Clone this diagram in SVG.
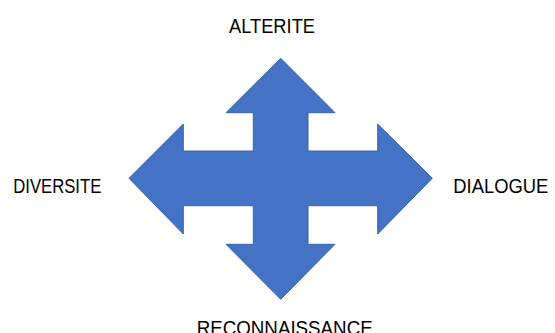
<svg xmlns="http://www.w3.org/2000/svg" width="555" height="333" viewBox="0 0 555 333">
<style>
.lbl{font-family:"Liberation Sans",Arial,sans-serif;font-size:21px;fill:#000}
.arrow{fill:#4472C4;stroke:#3A63AD;stroke-width:1}
</style>
<rect width="555" height="333" fill="#fff"/>
<g id="cross">
<path class="arrow" d="M280.7,58.3 L335,112.7 L308,112.7 L308,151 L377.7,151 L377.7,124 L432.3,178.3 L377.7,234 L377.7,205.7 L308,205.7 L308,244.3 L335,244.3 L280.7,299.3 L226,244.3 L253.3,244.3 L253.3,205.7 L183.3,205.7 L183.3,234 L129,178.3 L183.3,124 L183.3,151 L253.3,151 L253.3,112.7 L226,112.7 Z"/>
</g>
<g id="label-alterite"><text class="lbl" x="229" y="33" textLength="86" lengthAdjust="spacingAndGlyphs">ALTERITE</text></g>
<g id="label-diversite"><text class="lbl" x="13.3" y="193.3" textLength="88" lengthAdjust="spacingAndGlyphs">DIVERSITE</text></g>
<g id="label-dialogue"><text class="lbl" x="453.3" y="193.3" textLength="95" lengthAdjust="spacingAndGlyphs">DIALOGUE</text></g>
<g id="label-reconnaissance"><text class="lbl" x="196.7" y="335" textLength="176" lengthAdjust="spacingAndGlyphs">RECONNAISSANCE</text></g>
<g id="connectors"></g>
</svg>
